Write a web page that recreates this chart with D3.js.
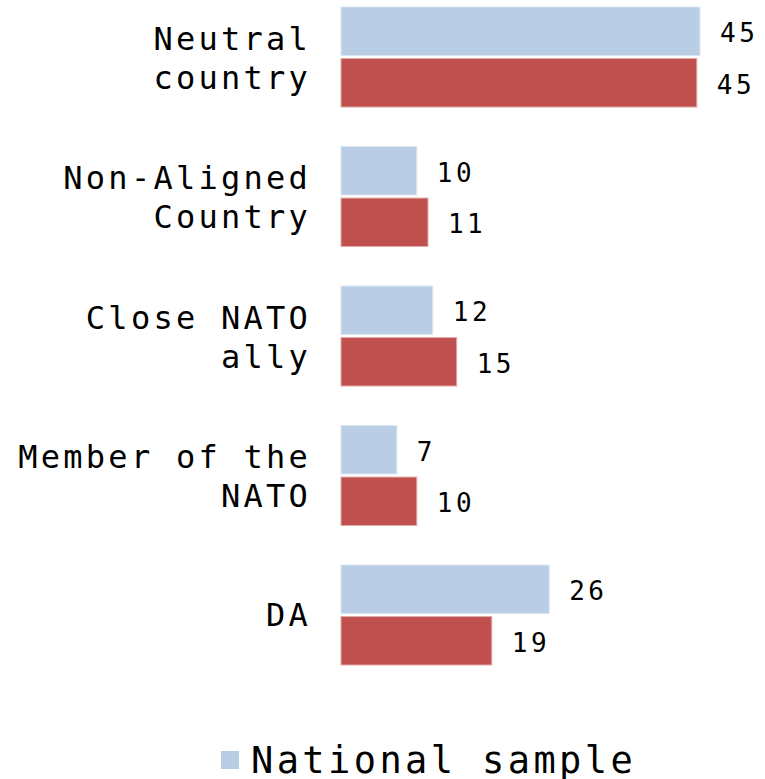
<!DOCTYPE html>
<html>
  <head>
    <meta charset="utf-8">
    <style>
body {
  margin: 0;
  background: #fff;
}
svg text {
  font-family: 'DejaVu Sans Mono', monospace;
  fill: #000;
}
</style>
    <title></title>
  </head>
  <body>
    <svg width="765" height="779"></svg>
    <script src="https://d3js.org/d3.v7.min.js"></script>
    <script>
// data
var categories = [["Neutral", "country"], ["Non-Aligned", "Country"], ["Close NATO", "ally"], ["Member of the", "NATO"], ["DA"]];
var seriesNames = ["National sample", "Second sample"];
var nationalValues = [45.0, 9.5, 11.5, 7.0, 26.1];
var secondValues = [44.6, 10.9, 14.5, 9.5, 18.9];
var colors = ["#b9cde5", "#c0504d"];
var strokes = ["#dce6f2", "#e3a9a7"];

var svg = d3.select("svg");
var names = categories.map(function(d) { return d.join(" "); });

// y: one band per category, inner band per series
var y0 = d3.scaleBand()
    .domain(names)
    .range([7, 7 + 4 * 139.5 + 100])
    .paddingInner(0.283)
    .paddingOuter(0);

var y1 = d3.scaleBand()
    .domain([0, 1])
    .range([0, y0.bandwidth()])
    .paddingInner(0.06);

var x = d3.scaleLinear()
    .domain([0, 45])
    .range([341, 700]);

var rows = names.map(function(n, i) {
  return {name: n, lines: categories[i], values: [nationalValues[i], secondValues[i]]};
});

var group = svg.append("g")
  .selectAll("g")
  .data(rows)
  .enter().append("g")
    .attr("transform", function(d) { return "translate(0," + y0(d.name) + ")"; });

group.selectAll("rect")
  .data(function(d) { return d.values.map(function(v, s) { return {v: v, s: s}; }); })
  .enter().append("rect")
    .attr("x", x(0))
    .attr("y", function(d) { return y1(d.s); })
    .attr("width", function(d) { return x(d.v) - x(0); })
    .attr("height", y1.bandwidth())
    .attr("fill", function(d) { return colors[d.s]; })
    .attr("stroke", function(d) { return strokes[d.s]; })
    .attr("stroke-width", 1);

// value labels
group.selectAll("text.val")
  .data(function(d) { return d.values.map(function(v, s) { return {v: v, s: s}; }); })
  .enter().append("text")
    .attr("class", "val")
    .attr("x", function(d) { return x(d.v) + 20; })
    .attr("y", function(d) { return y1(d.s) + y1.bandwidth() / 2 + 11; })
    .attr("font-size", 26)
    .attr("letter-spacing", 3.5)
    .text(function(d) { return Math.round(d.v); });

// category labels
group.append("text")
    .attr("text-anchor", "end")
    .attr("font-size", 32)
    .attr("letter-spacing", 3.25)
    .selectAll("tspan")
    .data(function(d) { return d.lines.map(function(l, i) { return {l: l, i: i, n: d.lines.length}; }); })
    .enter().append("tspan")
      .attr("x", 311)
      .attr("y", function(d) {
        var c = y0.bandwidth() / 2;
        if (d.n == 1) return c + 11;
        return c - 7 + d.i * 39;
      })
      .text(function(d) { return d.l; });

// legend (only the first entry fits in the picture)
var legend = svg.append("g");
legend.append("rect")
    .attr("x", 221)
    .attr("y", 751)
    .attr("width", 18)
    .attr("height", 18)
    .attr("fill", colors[0]);
legend.append("text")
    .attr("x", 251)
    .attr("y", 773)
    .attr("font-size", 37)
    .attr("letter-spacing", 3.4)
    .text(seriesNames[0]);
</script>
  </body>
</html>
